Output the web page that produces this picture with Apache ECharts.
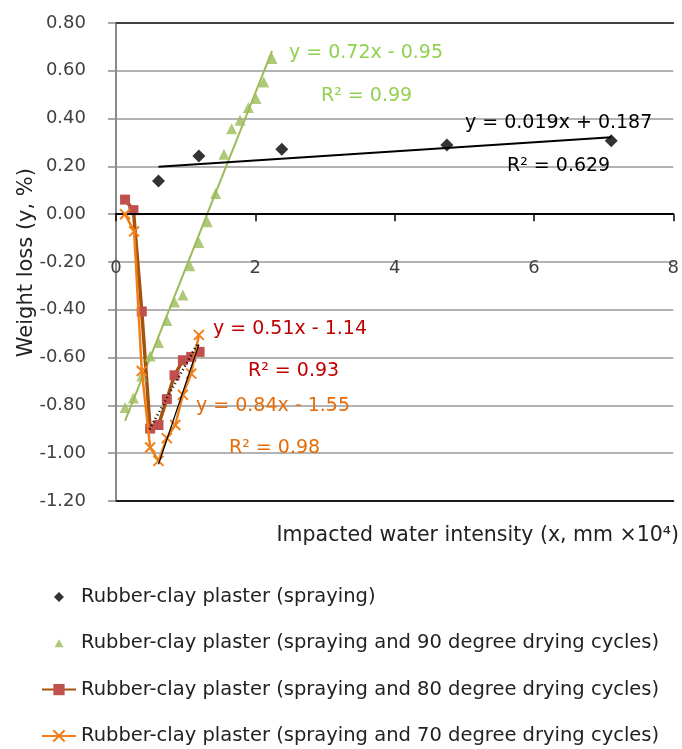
<!DOCTYPE html>
<html>
<head>
<meta charset="utf-8">
<script src="https://cdn.jsdelivr.net/npm/echarts@6/dist/echarts.min.js"></script>
<style>
html,body{margin:0;padding:0;background:#fff;}
#chart{width:682px;height:749px;}
</style>
</head>
<body>
<div id="chart"></div>
<script>
// ---- data ----
const seriesNames = [
  'Rubber-clay plaster (spraying)',
  'Rubber-clay plaster (spraying and 90 degree drying cycles)',
  'Rubber-clay plaster (spraying and 80 degree drying cycles)',
  'Rubber-clay plaster (spraying and 70 degree drying cycles)'
];
const spraying = [[0.61,0.139],[1.19,0.244],[2.38,0.272],[4.75,0.290],[7.11,0.307]];
const dry90 = [[0.13,-0.809],[0.25,-0.769],[0.37,-0.677],[0.49,-0.593],[0.61,-0.537],[0.73,-0.445],
  [0.84,-0.367],[0.96,-0.338],[1.06,-0.216],[1.19,-0.118],[1.31,-0.032],[1.43,0.087],[1.55,0.251],
  [1.66,0.358],[1.78,0.393],[1.90,0.446],[2.01,0.484],[2.12,0.553],[2.24,0.651]];
const dry80 = [[0.13,0.061],[0.25,0.017],[0.37,-0.407],[0.49,-0.897],[0.61,-0.882],[0.73,-0.774],
  [0.84,-0.674],[0.96,-0.611],[1.08,-0.597],[1.20,-0.576]];
const dry70 = [[0.13,0.0],[0.26,-0.072],[0.37,-0.656],[0.49,-0.976],[0.61,-1.032],[0.73,-0.937],
  [0.85,-0.882],[0.96,-0.756],[1.08,-0.667],[1.19,-0.505]];
// trendline end points (as drawn)
const trendSpraying = [[0.61,0.199],[7.11,0.322]];
const trend90 = [[0.13,-0.865],[2.24,0.683]];
const trend80 = [[0.48,-0.900],[1.18,-0.537]];
const trend70 = [[0.61,-1.046],[1.19,-0.545]];
// equation labels
const eqTexts = ['y = 0.72x - 0.95','R² = 0.99','y = 0.019x + 0.187','R² = 0.629',
  'y = 0.51x - 1.14','R² = 0.93','y = 0.84x - 1.55','R² = 0.98'];
const xTicks = {min:0, max:8, interval:2};
const yTicks = {min:-1.2, max:0.8, interval:0.2};
const xTitle = 'Impacted water intensity (x, mm ×10⁴)';
const yTitle = 'Weight loss (y, %)';

// ---- chart ----
const FONT = 'DejaVu Sans';
const chart = echarts.init(document.getElementById('chart'), null, {renderer:'canvas'});
const xPath = 'path://M0,0 L10,10 M10,0 L0,10';
// legend icons padded to the 34x14 legend box so they keep a small size
const legendDiamond = 'path://M0,0L0.01,0M34,14L34.01,14M17,2L22,7L17,12L12,7Z';
const legendTriangle = 'path://M0,0L0.01,0M34,14L34.01,14M17,3L21.5,11L12.5,11Z';

function eqLabel(text, x, y, color){
  return {type:'text', left:x, top:y-9, z:100,
    style:{text:text, fill:color, font:'19px "'+FONT+'"'}};
}
const helperAxis = (pos, color) => ({type:'value', position:pos, min:xTicks.min, max:xTicks.max,
  interval:xTicks.interval, axisLine:{show:true, onZero:false, lineStyle:{color:color, width:2}},
  axisTick:{show:false}, axisLabel:{show:false}, splitLine:{show:false}});

chart.setOption({
  animation:false,
  textStyle:{fontFamily:FONT},
  grid:{left:116, top:23, width:568, height:478, containLabel:false},
  xAxis:[
    {type:'value', min:xTicks.min, max:xTicks.max, interval:xTicks.interval, z:5,
      axisLine:{onZero:true, lineStyle:{color:'#000', width:2}},
      axisTick:{show:true, inside:false, length:7, lineStyle:{color:'#000', width:1.5}},
      axisLabel:{margin:-242, fontSize:18, color:'#404040', fontFamily:FONT},
      splitLine:{show:false}},
    helperAxis('top', '#404040'),
    helperAxis('bottom', '#1a1a1a')
  ],
  yAxis:{type:'value', min:yTicks.min, max:yTicks.max, interval:yTicks.interval,
    axisLine:{show:true, lineStyle:{color:'#8a8a8a', width:2}},
    axisTick:{show:true, inside:false, length:8, lineStyle:{color:'#8a8a8a', width:1.5}},
    axisLabel:{margin:30, fontSize:18, color:'#404040', fontFamily:FONT,
      formatter:v=>v.toFixed(2)},
    splitLine:{show:true, lineStyle:{color:'#9a9a9a', width:1.5}}},
  legend:{orient:'vertical', left:41, top:586, padding:0, itemWidth:34, itemHeight:14, itemGap:24.3,
    data:[{name:seriesNames[0], icon:legendDiamond}, {name:seriesNames[1], icon:legendTriangle},
      seriesNames[2], seriesNames[3]],
    textStyle:{fontSize:19.5, color:'#222', fontFamily:FONT, lineHeight:22}},
  graphic:[
    eqLabel(eqTexts[0], 289, 53, '#92D050'),
    eqLabel(eqTexts[1], 321, 96, '#92D050'),
    eqLabel(eqTexts[2], 465, 123, '#000'),
    eqLabel(eqTexts[3], 507, 166, '#000'),
    eqLabel(eqTexts[4], 213, 329, '#C00000'),
    eqLabel(eqTexts[5], 248, 371, '#C00000'),
    eqLabel(eqTexts[6], 196, 406, '#E46C0A'),
    eqLabel(eqTexts[7], 229, 448, '#E46C0A'),
    {type:'text', right:3, top:525, style:{text:xTitle, fill:'#222', font:'20.5px "'+FONT+'"'}},
    {type:'text', left:16, top:168, rotation:Math.PI/2,
      style:{text:yTitle, fill:'#222', font:'21px "'+FONT+'"'}}
  ],
  series:[
    {name:seriesNames[0], type:'scatter', data:spraying, symbol:'diamond', symbolSize:13,
      itemStyle:{color:'#000'}, z:5},
    {name:seriesNames[1], type:'scatter', data:dry90, symbol:'triangle', symbolSize:11,
      itemStyle:{color:'#9BBB59'}, z:5},
    {name:seriesNames[2], type:'line', data:dry80, symbol:'rect', symbolSize:10, showAllSymbol:true,
      lineStyle:{color:'#A5520F', width:3.5}, itemStyle:{color:'#C0504D'}, z:4},
    {name:seriesNames[3], type:'line', data:dry70, symbol:xPath, symbolSize:10, showAllSymbol:true,
      lineStyle:{color:'#F07F1A', width:2.5}, itemStyle:{color:'#F07F1A', borderColor:'#F07F1A', borderWidth:2}, z:6},
    {name:'t0', type:'line', data:trendSpraying, symbol:'none', lineStyle:{color:'#000', width:2}, z:7},
    {name:'t1', type:'line', data:trend90, symbol:'none', lineStyle:{color:'#9BBB59', width:2}, z:3},
    {name:'t2', type:'line', data:trend80, symbol:'none', lineStyle:{color:'#000', width:2.5, type:[1,3]}, z:7},
    {name:'t3', type:'line', data:trend70, symbol:'none', lineStyle:{color:'#000', width:1.2}, z:7}
  ]
});
</script>
</body>
</html>
